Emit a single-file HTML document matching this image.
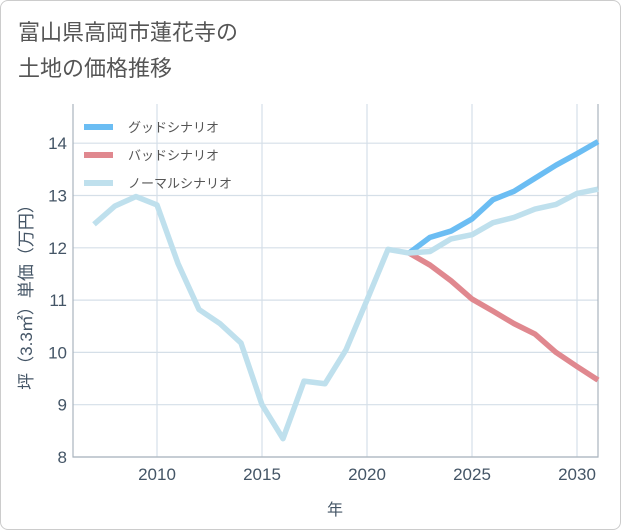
<!DOCTYPE html>
<html><head><meta charset="utf-8"><style>
body{margin:0;background:#fff;}
#wrap{position:relative;width:619px;height:528px;border:1px solid #ccc;border-radius:8px;background:#fff;overflow:hidden;font-family:"Liberation Sans","Noto Sans CJK JP",sans-serif;}
#title{position:absolute;left:17px;top:14px;font-size:22px;line-height:36px;color:#555;}
</style></head><body>
<div id="wrap">
<div id="title">富山県高岡市蓮花寺の<br>土地の価格推移</div>
<svg id="chart" width="621" height="530" style="position:absolute;left:0;top:0"></svg>
</div>
<script>
const years=[2007,2008,2009,2010,2011,2012,2013,2014,2015,2016,2017,2018,2019,2020,2021,2022,2023,2024,2025,2026,2027,2028,2029,2030,2031];
const normal=[12.45,12.8,12.98,12.82,11.7,10.82,10.55,10.18,9.0,8.35,9.45,9.4,10.05,11.0,11.97,11.9,11.93,12.17,12.25,12.48,12.58,12.74,12.83,13.04,13.12];
const goodYears=[2022,2023,2024,2025,2026,2027,2028,2029,2030,2031];
const good=[11.9,12.2,12.32,12.55,12.92,13.08,13.33,13.58,13.8,14.03];
const bad=[11.9,11.67,11.37,11.02,10.79,10.55,10.35,10.0,9.73,9.47];
const xTicks=[2010,2015,2020,2025,2030];
const yTicks=[8,9,10,11,12,13,14];
const legendLabels=["グッドシナリオ","バッドシナリオ","ノーマルシナリオ"];
const colors=["#6bbdf3","#e0888f","#bfe0ed"];

const L=72,R=597,T=103,B=456;
const x=v=>156+(v-2010)*21;
const y=v=>456-(v-8)*52.3;
const svg=document.getElementById('chart');
const NS='http://www.w3.org/2000/svg';
function mk(t,a){const e=document.createElementNS(NS,t);for(const k in a)e.setAttribute(k,a[k]);svg.appendChild(e);return e;}
for(const t of yTicks){const l=mk('line',{x1:L,x2:R,y1:y(t),y2:y(t),stroke:'#d5dfe8','stroke-width':1.2});

const tx=mk('text',{x:66,y:y(t)+6,'text-anchor':'end','font-size':17,fill:'#445566'});tx.textContent=t;
}
for(const t of xTicks){const l=mk('line',{x1:x(t),x2:x(t),y1:T,y2:B,stroke:'#d5dfe8','stroke-width':1.2});

const tx=mk('text',{x:x(t),y:479,'text-anchor':'middle','font-size':17,fill:'#445566'});tx.textContent=t;
}
const ax=mk('path',{d:`M${L} ${T}V${B}H${R}V${T}`,fill:'none',stroke:'#aab4be','stroke-width':1.2});

function line(xs,vs,c,name){const p=mk('polyline',{points:xs.map((v,i)=>x(v)+','+y(vs[i])).join(' '),fill:'none',stroke:c,'stroke-width':5.5,'stroke-linejoin':'round'});
}
line(goodYears,good,colors[0],'good-scenario-line');
line(goodYears,bad,colors[1],'bad-scenario-line');
line(years,normal,colors[2],'normal-scenario-line');
legendLabels.forEach((s,i)=>{const yy=126+i*28;
const l=mk('line',{x1:83,x2:112,y1:yy,y2:yy,stroke:colors[i],'stroke-width':6});

const t=mk('text',{x:127,y:yy+5,'font-size':13,fill:'#555'});t.textContent=s;
});
const yt=mk('text',{x:0,y:0,'font-size':17,fill:'#445566','text-anchor':'middle',transform:'translate(31,292) rotate(-90)'});
yt.textContent='坪（3.3㎡）単価（万円）';

const xt=mk('text',{x:334,y:514,'font-size':16,fill:'#445566','text-anchor':'middle'});xt.textContent='年';

</script>
</body></html>
